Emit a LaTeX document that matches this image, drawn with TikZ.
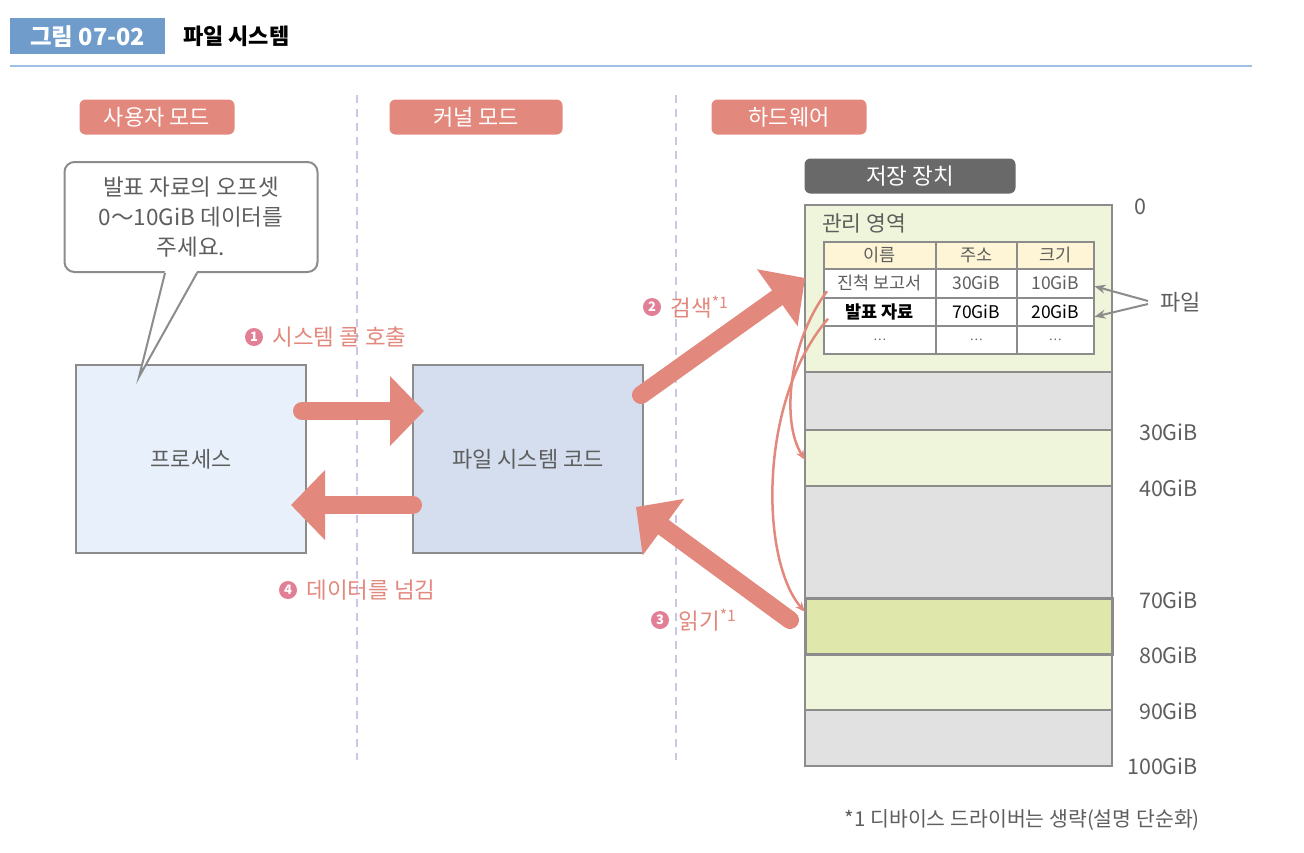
\documentclass[tikz,border=0pt]{standalone}
\usepackage{fontspec}
\setmainfont{Noto Sans CJK KR}
\usetikzlibrary{arrows.meta,positioning}
\definecolor{tagblue}{HTML}{6F9CCB}
\definecolor{ruleblue}{HTML}{9DC0E3}
\definecolor{salmon}{HTML}{E3887D}
\definecolor{numpink}{HTML}{E07F95}
\definecolor{lavender}{HTML}{CBC5E6}
\definecolor{boxgray}{HTML}{8C8C8C}
\definecolor{textgray}{HTML}{5E5E5E}
\definecolor{procfill}{HTML}{E8F1FB}
\definecolor{fscfill}{HTML}{D4DEEE}
\definecolor{darkpill}{HTML}{696969}
\definecolor{seggreen}{HTML}{EFF5DA}
\definecolor{seggray}{HTML}{E0E1E0}
\definecolor{seghi}{HTML}{DFE8AA}
\definecolor{hdryellow}{HTML}{FDF5D5}
\tikzset{
  pill/.style={fill=salmon, rounded corners=6pt, text=white,
    minimum width=155pt, minimum height=35pt, font=\fontsize{22}{24}\selectfont},
  panel/.style={draw=boxgray, line width=2pt, minimum width=230pt,
    minimum height=188pt, text=textgray, font=\fontsize{22}{24}\selectfont},
  bigarrow/.style={draw=salmon, line width=18pt, line cap=round,
    -{Triangle[length=34pt,width=68pt]}},
  numdot/.style={circle, fill=numpink, text=white, inner sep=0pt,
    minimum size=18pt, font=\bfseries\fontsize{13}{13}\selectfont},
  steptext/.style={text=salmon, inner sep=1pt, font=\fontsize{22.5}{24}\selectfont},
  seg/.style={draw=boxgray, line width=2pt, minimum width=307pt,
    anchor=north west, inner sep=0pt, outer sep=0pt},
  cell/.style={draw=boxgray, line width=1.5pt, fill=white, anchor=north west,
    inner sep=0pt},
  celltext/.style={text=textgray, inner sep=0pt, font=\fontsize{17.5}{19}\selectfont},
  gib/.style={text=textgray, anchor=east, inner sep=0pt, font=\fontsize{21.5}{23}\selectfont},
  thinarrow/.style={draw=salmon, line width=2.5pt, -{Stealth[length=10pt,width=8pt]}},
  pointer/.style={draw=boxgray, line width=2pt, -{Stealth[length=11pt,width=9pt]}},
  divider/.style={draw=lavender, line width=1.5pt, dash pattern=on 8pt off 6pt}
}
\begin{document}
\begin{tikzpicture}[x=1pt,y=-1pt]
  \useasboundingbox[fill=white] (0,0) rectangle (1304,852);

  % heading
  \node[fill=tagblue, text=white, anchor=north west, minimum width=155pt,
    minimum height=36pt, font=\bfseries\fontsize{23.5}{25}\selectfont] (figtag) at (10,18) {그림 07-02};
  \node[anchor=west, inner sep=0pt, font=\bfseries\fontsize{22}{24}\selectfont] (title) at (183,36) {파일 시스템};
  \draw[ruleblue, line width=1.5pt] (10,66) -- (1252,66);

  % modes
  \draw[divider] (357,95) -- (357,760);
  \draw[divider] (676,95) -- (676,760);
  \node[pill] (user) at (157,117) {사용자 모드};
  \node[pill, minimum width=173pt] (kernel) at (476,117) {커널 모드};
  \node[pill] (hw) at (789,117) {하드웨어};

  % process and file system code
  \node[panel, fill=procfill] (proc) at (191,459) {프로세스};
  \node[panel, fill=fscfill] (fsc) at (528,459) {파일 시스템 코드};

  \node[draw=boxgray, line width=2pt, fill=white, rounded corners=10pt,
    minimum width=253pt, minimum height=110pt, align=center, text=textgray,
    font=\fontsize{22.5}{30}\selectfont] (bubble) at (191,217)
    {발표 자료의 오프셋\\0～10GiB 데이터를\\주세요.};
  \coordinate (tip) at (139,377);
  \fill[white] ([xshift=-26pt,yshift=2pt]bubble.south) -- (tip) -- ([xshift=6pt,yshift=2pt]bubble.south) -- cycle;
  \draw[boxgray, line width=2pt] ([xshift=-26pt]bubble.south) -- (tip) -- ([xshift=6pt]bubble.south);

  % storage device
  \node[fill=darkpill, rounded corners=6pt, text=white, minimum width=211pt,
    minimum height=35pt, font=\fontsize{22.5}{24}\selectfont] (disk) at (910,176) {저장 장치};
  \node[seg, fill=seggreen, minimum height=167pt] (mgmt) at (805,205) {};
  \node[seg, fill=seggray, minimum height=58pt] (g1) at (805,372) {};
  \node[seg, fill=seggreen, minimum height=56pt] (s30) at (805,430) {};
  \node[seg, fill=seggray, minimum height=112pt] (g2) at (805,486) {};
  \node[seg, fill=seggreen, minimum height=56pt] (s80) at (805,654) {};
  \node[seg, fill=seggray, minimum height=56pt] (g3) at (805,710) {};
  \node[seg, fill=seghi, minimum height=56pt, line width=3pt] (s70) at (805,598) {};

  \node[anchor=west, inner sep=0pt, text=textgray, font=\fontsize{21.5}{23}\selectfont] (mgmtlbl) at (822,223) {관리 영역};

  % file table
  \node[cell, fill=hdryellow, minimum width=112pt, minimum height=27pt] (hName) at (823,241) {};
  \node[cell, fill=hdryellow, minimum width=81pt, minimum height=27pt] (hAddr) at (935,241) {};
  \node[cell, fill=hdryellow, minimum width=77pt, minimum height=27pt] (hSize) at (1016,241) {};
  \node[celltext] at (hName) {이름};
  \node[celltext] at (hAddr) {주소};
  \node[celltext] at (hSize) {크기};

  \node[cell, minimum width=112pt, minimum height=29pt] (r1name) at (823,268) {};
  \node[cell, minimum width=81pt, minimum height=29pt] (r1addr) at (935,268) {};
  \node[cell, minimum width=77pt, minimum height=29pt] (r1size) at (1016,268) {};
  \node[celltext] at (r1name) {진척 보고서};
  \node[celltext] at (r1addr) {30GiB};
  \node[celltext] at (r1size) {10GiB};

  \node[cell, minimum width=112pt, minimum height=28pt] (r2name) at (823,297) {};
  \node[cell, minimum width=81pt, minimum height=28pt] (r2addr) at (935,297) {};
  \node[cell, minimum width=77pt, minimum height=28pt] (r2size) at (1016,297) {};
  \node[celltext, text=black, font=\bfseries\fontsize{17.5}{19}\selectfont] at (r2name) {발표 자료};
  \node[celltext, text=black] at (r2addr) {70GiB};
  \node[celltext, text=black] at (r2size) {20GiB};

  \node[cell, minimum width=112pt, minimum height=28pt] (r3name) at (823,325) {};
  \node[cell, minimum width=81pt, minimum height=28pt] (r3addr) at (935,325) {};
  \node[cell, minimum width=77pt, minimum height=28pt] (r3size) at (1016,325) {};
  \node[celltext, font=\fontsize{12}{13}\selectfont] at (r3name) {…};
  \node[celltext, font=\fontsize{12}{13}\selectfont] at (r3addr) {…};
  \node[celltext, font=\fontsize{12}{13}\selectfont] at (r3size) {…};

  \node[text=textgray, anchor=west, inner sep=0pt, font=\fontsize{22}{24}\selectfont] (file) at (1160,302) {파일};
  \draw[pointer] ([xshift=-12pt,yshift=1pt]file.west) -- ([yshift=-3pt]r1size.east);
  \draw[pointer] ([xshift=-12pt,yshift=-2pt]file.west) -- ([yshift=-5pt]r2size.east);

  % addresses
  \node[gib, anchor=west] (a0) at (1134,207) {0};
  \node[gib] (a30) at (1198,432) {30GiB};
  \node[gib] (a40) at (1198,488) {40GiB};
  \node[gib] (a70) at (1198,600) {70GiB};
  \node[gib] (a80) at (1198,655) {80GiB};
  \node[gib] (a90) at (1198,711) {90GiB};
  \node[gib] (a100) at (1198,766) {100GiB};

  % lookups inside the table
  \draw[thinarrow] ([xshift=4pt,yshift=-8pt]r1name.west) .. controls (790,340) and (780,420) .. ([yshift=-2pt]s30.west);
  \draw[thinarrow] ([xshift=5pt,yshift=-7pt]r2name.west) .. controls (758,400) and (760,560) .. ([yshift=14pt]s70.west);

  % steps
  \draw[bigarrow] ([xshift=-5pt,yshift=48pt]proc.east) -- ([xshift=12pt,yshift=48pt]fsc.west);
  \draw[bigarrow] ([xshift=1pt,yshift=-46pt]fsc.west) -- ([xshift=-16pt,yshift=-46pt]proc.east);
  \draw[bigarrow] ([xshift=-3pt,yshift=64pt]fsc.east) -- ([yshift=-73pt]mgmt.north west);
  \draw[bigarrow] ([xshift=-15pt,yshift=6pt]s70.west) -- ([xshift=-8pt,yshift=-48pt]fsc.east);

  \node[numdot] (n1) at (254,337) {1};
  \node[steptext, right=8pt of n1] (l1) {시스템 콜 호출};
  \node[numdot] (n2) at (652,307) {2};
  \node[steptext, right=8pt of n2] (l2) {검색\textsuperscript{*1}};
  \node[numdot] (n3) at (660,620) {3};
  \node[steptext, right=8pt of n3] (l3) {읽기\textsuperscript{*1}};
  \node[numdot] (n4) at (288,590) {4};
  \node[steptext, right=8pt of n4] (l4) {데이터를 넘김};

  \node[text=textgray, anchor=east, inner sep=0pt, font=\fontsize{20.5}{22}\selectfont] (foot) at (1200,820)
    {*1 디바이스 드라이버는 생략(설명 단순화)};
\end{tikzpicture}
\end{document}
